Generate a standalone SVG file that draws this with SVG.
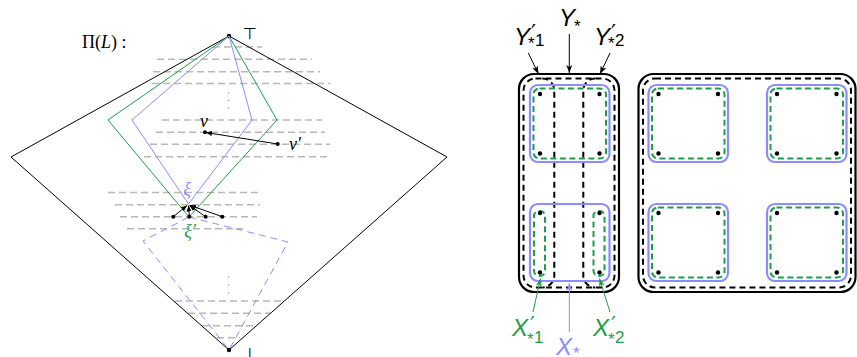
<svg xmlns="http://www.w3.org/2000/svg" width="857" height="357" viewBox="0 0 857 357">
<style>
.lvl{stroke:#b8b8b8;stroke-width:1.4;stroke-dasharray:7 4;fill:none}
.thin{stroke:#000;stroke-width:1;fill:none}
.grn{stroke:#1f9e4a;stroke-width:1;fill:none}
.blu{stroke:#8c8cff;stroke-width:1;fill:none}
.bluD{stroke:#8c8cff;stroke-width:1;fill:none;stroke-dasharray:7 5}
.dot{fill:#000}
.solidB{stroke:#000;stroke-width:2.2;fill:none}
.dashB{stroke:#000;stroke-width:2;fill:none;stroke-dasharray:6 4}
.sqB{stroke:#8c8cff;stroke-width:2.2;fill:none}
.sqG{stroke:#1f9e4a;stroke-width:2;fill:none;stroke-dasharray:6 3.5}
.serif{font-family:"Liberation Serif","DejaVu Serif",serif;font-size:18px}
.sans{font-family:"Liberation Sans",Arial,sans-serif}
.big{font-size:24px;font-style:italic}
.sub{font-size:17px}
.pr{font-size:22px;font-family:"DejaVu Sans",sans-serif}
.ar{stroke-width:1;fill:none}
</style>
<defs>
<marker id="ah" markerWidth="8" markerHeight="6" refX="8" refY="3" orient="auto" markerUnits="userSpaceOnUse"><path d="M0,0 L8,3 L0,6 L2,3 z" fill="#000"/></marker>
<marker id="ahs" markerWidth="6" markerHeight="5" refX="6" refY="2.5" orient="auto" markerUnits="userSpaceOnUse"><path d="M0,0 L6,2.5 L0,5 z" fill="#000"/></marker>
<marker id="ahG" markerWidth="8" markerHeight="6" refX="8" refY="3" orient="auto" markerUnits="userSpaceOnUse"><path d="M0,0 L8,3 L0,6 L2,3 z" fill="#1f9e4a"/></marker>
<marker id="ahBl" markerWidth="8" markerHeight="6" refX="8" refY="3" orient="auto" markerUnits="userSpaceOnUse"><path d="M0,0 L8,3 L0,6 L2,3 z" fill="#8c8cff"/></marker>
</defs>

<!-- LEFT: lattice Pi(L) -->
<g id="levels">
<line class="lvl" x1="213" y1="47" x2="262" y2="47"/>
<line class="lvl" x1="157" y1="59.3" x2="312" y2="59.3"/>
<line class="lvl" x1="153" y1="71.7" x2="320" y2="71.7"/>
<line class="lvl" x1="152" y1="83.5" x2="330" y2="83.5"/>
<line class="lvl" x1="162" y1="120" x2="322" y2="120"/>
<line class="lvl" x1="156" y1="132.3" x2="325" y2="132.3"/>
<line class="lvl" x1="150" y1="144.3" x2="330" y2="144.3"/>
<line class="lvl" x1="144" y1="156.7" x2="330" y2="156.7"/>
<line class="lvl" x1="108" y1="192.5" x2="260" y2="192.5"/>
<line class="lvl" x1="115" y1="204.7" x2="260" y2="204.7"/>
<line class="lvl" x1="120" y1="216.7" x2="257" y2="216.7"/>
<line class="lvl" x1="127" y1="228.8" x2="243" y2="228.8"/>
<line class="lvl" x1="175" y1="301" x2="282" y2="301"/>
<line class="lvl" x1="188" y1="313.3" x2="270" y2="313.3"/>
<line class="lvl" x1="202" y1="325.7" x2="253" y2="325.7"/>
<line class="lvl" x1="217" y1="337.7" x2="240" y2="337.7"/>
<g fill="#999">
<circle cx="228.5" cy="93" r="0.8"/><circle cx="228.5" cy="100.5" r="0.8"/><circle cx="228.5" cy="108" r="0.8"/>
<circle cx="228.5" cy="277" r="0.8"/><circle cx="228.5" cy="285" r="0.8"/><circle cx="228.5" cy="293" r="0.8"/>
</g>
</g>

<g id="lattice">
<polygon class="thin" points="229,36 447,157 229,350 11,157"/>
<circle class="dot" cx="229" cy="36" r="2.2"/>
<circle class="dot" cx="229" cy="350" r="2.2"/>
<text x="250" y="39" font-size="16" text-anchor="middle" font-family="'DejaVu Sans',sans-serif">⊤</text>
<text x="250" y="359" font-size="16" text-anchor="middle" font-family="'DejaVu Sans',sans-serif">⊥</text>
<text class="serif" x="82" y="48">Π(<tspan font-style="italic">L</tspan>) :</text>
</g>

<g id="green-interval">
<polygon class="grn" points="229,36 277,120 189,217 108,120"/>
</g>
<g id="blue-interval">
<polygon class="blu" points="229,36 252,120 188.5,204 132,120"/>
</g>
<g id="blue-dashed-interval">
<polygon class="bluD" points="189,217 288,242 229,350 143,241"/>
</g>

<g id="node-v">
<circle class="dot" cx="205" cy="132.3" r="2"/>
<text class="serif" x="204" y="127" font-style="italic" text-anchor="middle">v</text>
</g>
<g id="node-v-prime">
<circle class="dot" cx="277.7" cy="144" r="2"/>
<text class="serif" x="295" y="150" font-style="italic" text-anchor="middle">v′</text>
</g>
<g id="node-xi">
<text class="serif" x="187" y="195" font-style="italic" text-anchor="middle" fill="#8c8cff">ξ</text>
</g>
<g id="node-xi-prime">
<text class="serif" x="190" y="237" font-style="italic" text-anchor="middle" fill="#1f9e4a">ξ′</text>
<circle class="dot" cx="173.3" cy="216.7" r="2"/>
<circle class="dot" cx="189.3" cy="216.7" r="2"/>
<circle class="dot" cx="205.7" cy="216.7" r="2"/>
<circle class="dot" cx="222.3" cy="216.7" r="2"/>
</g>

<g id="connectors-left" stroke="#000">
<line class="ar" x1="277.7" y1="144" x2="206" y2="132.5" marker-end="url(#ahs)"/>
<line class="ar" x1="173.3" y1="216.7" x2="187" y2="205.5" marker-end="url(#ahs)"/>
<line class="ar" x1="189.3" y1="216.7" x2="188.6" y2="205.5" marker-end="url(#ahs)"/>
<line class="ar" x1="205.7" y1="216.7" x2="189.5" y2="205.5" marker-end="url(#ahs)"/>
<line class="ar" x1="222.3" y1="216.7" x2="190" y2="205.3" marker-end="url(#ahs)"/>
</g>

<!-- RIGHT -->
<g id="left-block">
<rect class="solidB" x="519" y="74" width="100" height="218" rx="15"/>
<rect class="dashB" x="523.5" y="78.5" width="91" height="209" rx="12"/>
<path class="dashB" d="M542.3 78.5 A12 12 0 0 1 554.3 90.5 V275.5 A12 12 0 0 1 542.3 287.5"/>
<path class="dashB" d="M595.3 78.5 A12 12 0 0 0 583.3 90.5 V275.5 A12 12 0 0 0 595.3 287.5"/>
<rect class="sqB" x="530" y="85" width="79.5" height="77" rx="8"/>
<rect class="sqG" x="533.5" y="88.5" width="72.5" height="70" rx="6"/>
<rect class="sqB" x="530" y="204" width="79.5" height="77" rx="8"/>
<rect class="sqG" x="534" y="211" width="11" height="65" rx="5"/>
<rect class="sqG" x="593.5" y="211" width="11" height="65" rx="5"/>
<g class="dot">
<circle cx="540" cy="94" r="2.2"/><circle cx="599.5" cy="94" r="2.2"/><circle cx="540" cy="153.5" r="2.2"/><circle cx="599.5" cy="153.5" r="2.2"/>
<circle cx="540" cy="213" r="2.2"/><circle cx="599.5" cy="213" r="2.2"/><circle cx="540" cy="272.5" r="2.2"/><circle cx="599.5" cy="272.5" r="2.2"/>
</g>
</g>

<g id="right-block">
<rect class="solidB" x="638.5" y="74" width="217" height="218" rx="15"/>
<rect class="dashB" x="643" y="78.5" width="208" height="209" rx="12"/>
<rect class="sqB" x="648.5" y="85" width="79.5" height="77" rx="8"/>
<rect class="sqG" x="652" y="88.5" width="72.5" height="70" rx="6"/>
<rect class="sqB" x="767" y="85" width="79.5" height="77" rx="8"/>
<rect class="sqG" x="770.5" y="88.5" width="72.5" height="70" rx="6"/>
<rect class="sqB" x="648.5" y="204" width="79.5" height="77" rx="8"/>
<rect class="sqG" x="652" y="207.5" width="72.5" height="70" rx="6"/>
<rect class="sqB" x="767" y="204" width="79.5" height="77" rx="8"/>
<rect class="sqG" x="770.5" y="207.5" width="72.5" height="70" rx="6"/>
<g class="dot">
<circle cx="658.5" cy="94" r="2.2"/><circle cx="718" cy="94" r="2.2"/><circle cx="658.5" cy="153.5" r="2.2"/><circle cx="718" cy="153.5" r="2.2"/>
<circle cx="777" cy="94" r="2.2"/><circle cx="836.5" cy="94" r="2.2"/><circle cx="777" cy="153.5" r="2.2"/><circle cx="836.5" cy="153.5" r="2.2"/>
<circle cx="658.5" cy="213" r="2.2"/><circle cx="718" cy="213" r="2.2"/><circle cx="658.5" cy="272.5" r="2.2"/><circle cx="718" cy="272.5" r="2.2"/>
<circle cx="777" cy="213" r="2.2"/><circle cx="836.5" cy="213" r="2.2"/><circle cx="777" cy="272.5" r="2.2"/><circle cx="836.5" cy="272.5" r="2.2"/>
</g>
</g>

<text id="label-Ystar" class="sans"><tspan class="big" x="559" y="26">Y</tspan><tspan class="sub" x="574" y="32">*</tspan></text>
<text id="label-Y1" class="sans"><tspan class="big" x="514" y="45">Y</tspan><tspan class="pr" x="531" y="40">′</tspan><tspan class="sub" x="528" y="49">*</tspan><tspan class="sub" x="535" y="46">1</tspan></text>
<text id="label-Y2" class="sans"><tspan class="big" x="594" y="45">Y</tspan><tspan class="pr" x="611" y="40">′</tspan><tspan class="sub" x="608" y="49">*</tspan><tspan class="sub" x="615" y="46">2</tspan></text>
<text id="label-X1" class="sans" fill="#1f9e4a"><tspan class="big" x="512" y="336">X</tspan><tspan class="pr" x="530" y="332">′</tspan><tspan class="sub" x="527" y="345">*</tspan><tspan class="sub" x="534" y="343">1</tspan></text>
<text id="label-X2" class="sans" fill="#1f9e4a"><tspan class="big" x="593" y="336">X</tspan><tspan class="pr" x="611" y="332">′</tspan><tspan class="sub" x="608" y="345">*</tspan><tspan class="sub" x="615" y="343">2</tspan></text>
<text id="label-Xstar" class="sans" fill="#8c8cff"><tspan class="big" x="556" y="355">X</tspan><tspan class="sub" font-size="15" x="573" y="359">*</tspan></text>

<g id="connectors-right">
<line class="ar" stroke="#000" x1="569.3" y1="34" x2="569.3" y2="73" marker-end="url(#ah)"/>
<line class="ar" stroke="#000" x1="528.3" y1="53" x2="538.5" y2="74" marker-end="url(#ah)"/>
<line class="ar" stroke="#000" x1="610" y1="53" x2="600" y2="74" marker-end="url(#ah)"/>
<line class="ar" stroke="#1f9e4a" x1="533" y1="312" x2="540.5" y2="278.5" marker-end="url(#ahG)"/>
<line class="ar" stroke="#1f9e4a" x1="610" y1="312" x2="599.5" y2="278.5" marker-end="url(#ahG)"/>
<line class="ar" stroke="#8c8cff" x1="569.3" y1="332" x2="569.3" y2="283" marker-end="url(#ahBl)"/>
</g>
</svg>
